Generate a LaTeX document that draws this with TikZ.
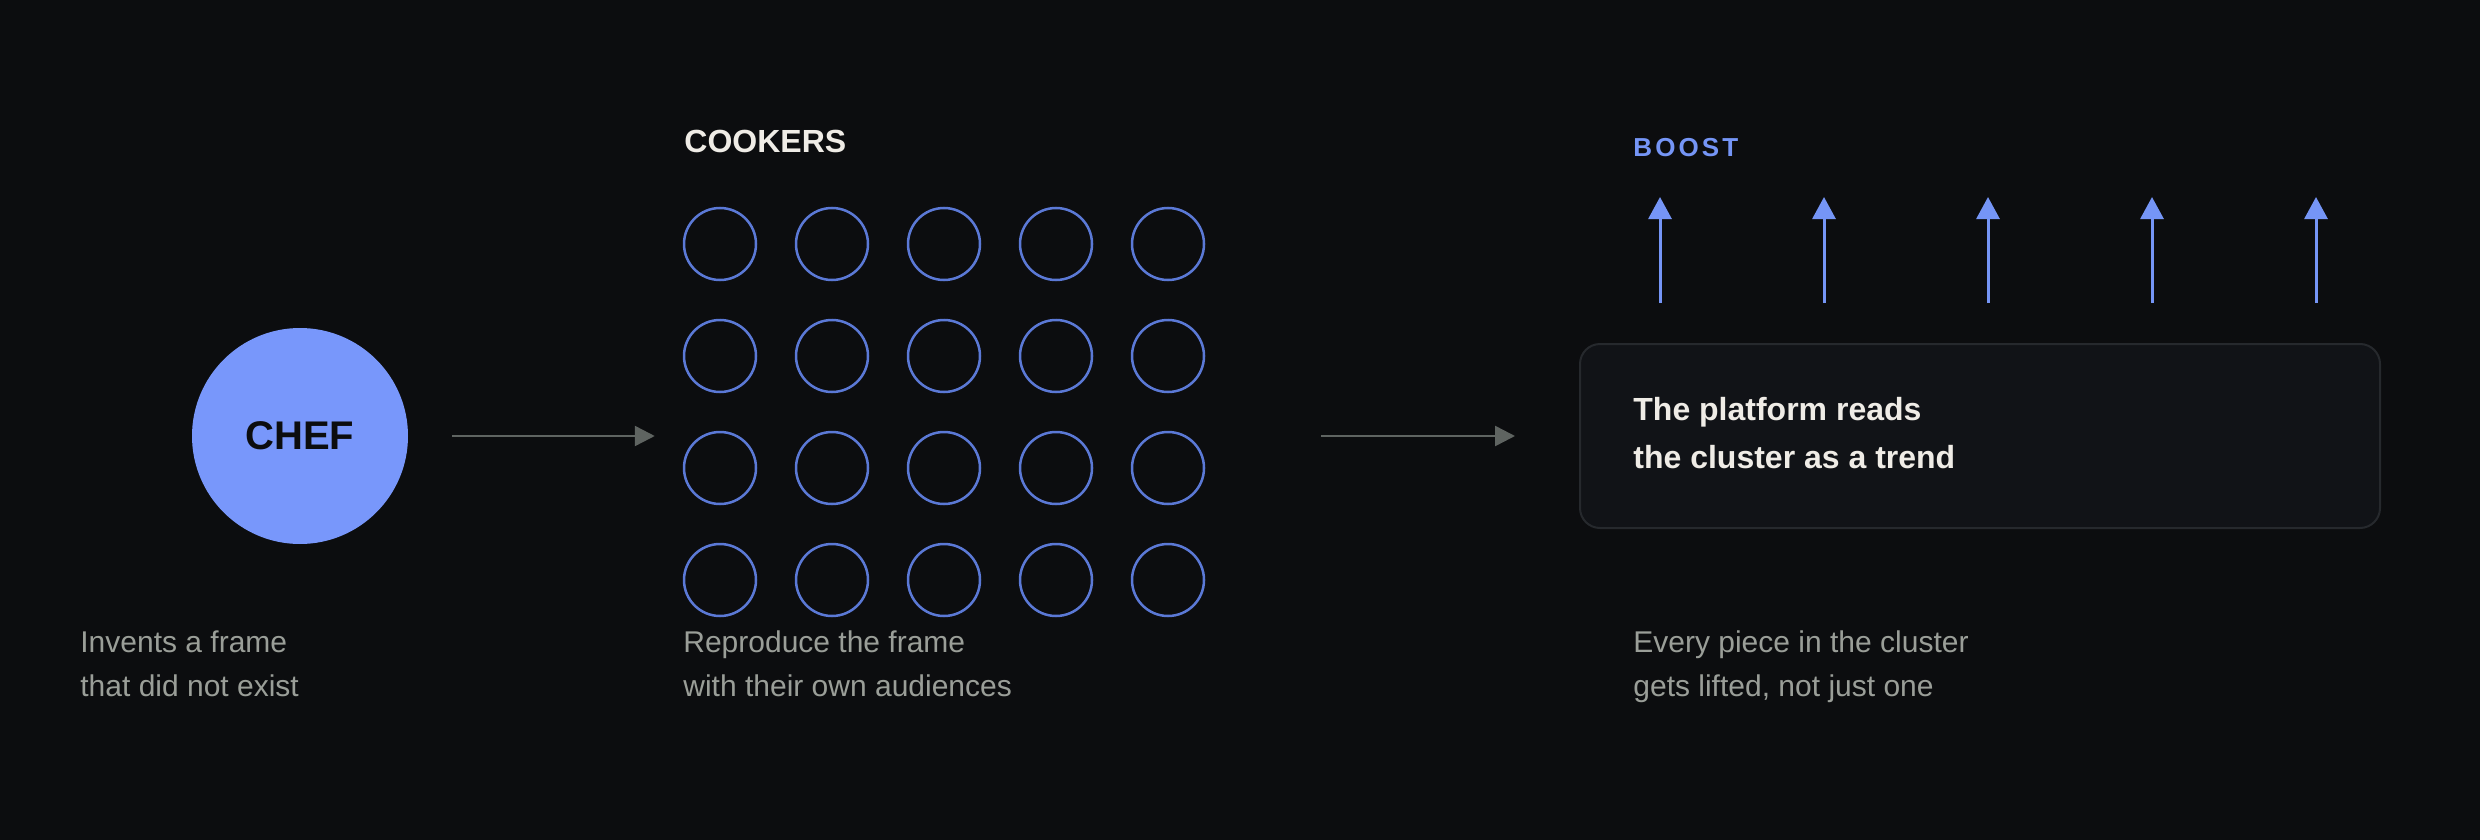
\documentclass[tikz,border=0pt]{standalone}
\usepackage{fontspec}
\setmainfont{Liberation Sans}
\usetikzlibrary{arrows.meta}
\definecolor{bg}{HTML}{0C0D0F}
\definecolor{chefblue}{HTML}{7897FB}
\definecolor{ringblue}{HTML}{5B79D6}
\definecolor{boostblue}{HTML}{7595F6}
\definecolor{headtext}{HTML}{EFECE6}
\definecolor{captext}{HTML}{9A9E98}
\definecolor{flowgray}{HTML}{5F6461}
\definecolor{boxfill}{HTML}{111317}
\definecolor{boxline}{HTML}{26292D}
\begin{document}
\begin{tikzpicture}[x=0.5pt,y=-0.5pt,
  chefnode/.style={circle,fill=chefblue,minimum size=108pt,inner sep=0pt,
    font=\fontsize{20}{24}\selectfont\bfseries,text=bg},
  cooker/.style={circle,draw=ringblue,line width=1.25pt,minimum size=36pt,inner sep=0pt},
  caption/.style={anchor=base west,inner sep=0pt,text=captext,font=\fontsize{15}{18}\selectfont},
  heading/.style={anchor=base west,inner sep=0pt,text=headtext,font=\fontsize{16}{19}\selectfont\bfseries},
  boxtext/.style={anchor=base west,inner sep=0pt,text=headtext,font=\fontsize{16}{19}\selectfont\bfseries},
  flow/.style={draw=flowgray,line width=1.25pt,-{Triangle[length=10pt,width=10pt]}},
  boostarrow/.style={draw=boostblue,line width=1.5pt,-{Triangle[length=11pt,width=11.5pt]}},
  platform/.style={draw=boxline,line width=1pt,fill=boxfill,rounded corners=10pt,
    minimum width=400pt,minimum height=92pt,inner sep=0pt}
]
\fill[bg] (0,0) rectangle (2480,840);
\useasboundingbox (0,0) rectangle (2480,840);

% chef
\node[chefnode] (chef) at (300,436) {CHEF};
\node[caption] (cap1a) at (80,652) {Invents a frame};
\node[caption] (cap1b) at (80,696) {that did not exist};

% cookers
\node[heading] (cookers) at (684,153) {COOKERS};
\foreach \r in {1,...,4}{
  \foreach \c in {1,...,5}{
    \node[cooker] (c\r\c) at ({720+112*(\c-1)},{244+112*(\r-1)}) {};
  }
}
\node[caption] (cap2a) at (683,652) {Reproduce the frame};
\node[caption] (cap2b) at (683,696) {with their own audiences};

% platform
\node[platform] (box) at (1980,436) {};
\node[boxtext] (bt1) at (1633,420) {The platform reads};
\node[boxtext] (bt2) at (1633,468) {the cluster as a trend};
\node[anchor=base west,inner sep=0pt,text=boostblue,
  font=\fontsize{13}{16}\selectfont\bfseries\addfontfeature{LetterSpace=12}] (boost) at (1633,156) {BOOST};
\foreach \i/\x in {1/1660,2/1824,3/1988,4/2152,5/2316}{
  \coordinate (tip\i) at (\x,197);
  \draw[boostarrow,shorten <=20pt] (tip\i |- box.north) -- (tip\i);
}
\node[caption] (cap3a) at (1633,652) {Every piece in the cluster};
\node[caption] (cap3b) at (1633,696) {gets lifted, not just one};

% flows
\draw[flow,shorten <=22pt,shorten >=14pt] (chef.east) -- (chef.east -| c11.west);
\draw[flow,shorten <=58pt,shorten >=32pt] (chef.east -| c15.east) -- (chef.east -| box.west);
\end{tikzpicture}
\end{document}
